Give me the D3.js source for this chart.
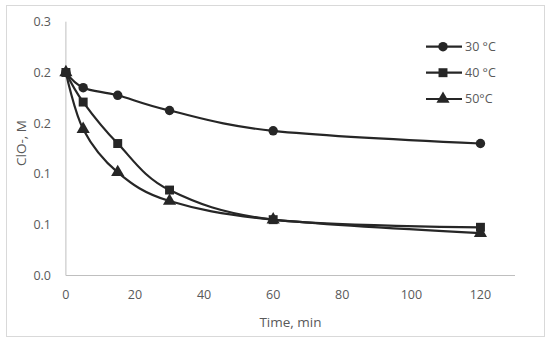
<html>
<head>
<title>ClO- decay</title>
<style>
  body { margin: 0; background: #fff; }
  text { font-family: "Open Sans", "Liberation Sans", sans-serif; fill: #595959; }
</style>
</head>
<body>
<script src="https://d3js.org/d3.v7.min.js"></script>
<script>
var times = [0, 5, 15, 30, 60, 120];
var c30 = [0.240, 0.222, 0.213, 0.195, 0.171, 0.156];
var c40 = [0.240, 0.205, 0.156, 0.101, 0.066, 0.057];
var c50 = [0.240, 0.173, 0.122, 0.088, 0.066, 0.050];
var seriesNames = ["30 °C", "40 °C", "50°C"];
var xTicks = [0, 20, 40, 60, 80, 100, 120];
var yTicks = [0, 0.06, 0.12, 0.18, 0.24, 0.3];

var w = 550, h = 343;
var svg = d3.select('body').append('svg')
    .attr('width', w).attr('height', h);

// outer frame
svg.append('rect')
    .attr('x', 6.5).attr('y', 5.5)
    .attr('width', 538).attr('height', 331)
    .attr('fill', 'none').attr('stroke', '#d9d9d9');

var x = d3.scaleLinear().domain([0, 130]).range([65.9, 515]);
var y = d3.scaleLinear().domain([0, 0.3]).range([275.5, 21.7]);

// axes
svg.append('line')
    .attr('x1', x(0)).attr('x2', x(0))
    .attr('y1', y(0.3)).attr('y2', y(0))
    .attr('stroke', '#bfbfbf').attr('stroke-width', 1);
svg.append('line')
    .attr('x1', x(0)).attr('x2', x(130))
    .attr('y1', y(0)).attr('y2', y(0))
    .attr('stroke', '#bfbfbf').attr('stroke-width', 1);

svg.selectAll('.ylab').data(yTicks).enter()
    .append('text')
    .attr('class', 'ylab')
    .attr('x', 51).attr('y', d => y(d))
    .attr('dy', '0.35em')
    .attr('text-anchor', 'end')
    .style('font-size', '12.5px')
    .text(d => d3.format('.1f')(d));

svg.selectAll('.xlab').data(xTicks).enter()
    .append('text')
    .attr('class', 'xlab')
    .attr('x', d => x(d)).attr('y', 295)
    .attr('dy', '0.35em')
    .attr('text-anchor', 'middle')
    .style('font-size', '12.5px')
    .text(d => d);

svg.append('text')
    .attr('x', (x(0) + x(130)) / 2).attr('y', 322)
    .attr('dy', '0.35em')
    .attr('text-anchor', 'middle')
    .style('font-size', '13.5px')
    .text('Time, min');

svg.append('text')
    .attr('transform', 'translate(21,143) rotate(-90)')
    .attr('dy', '0.35em')
    .attr('text-anchor', 'middle')
    .style('font-size', '13.5px')
    .text('ClO-, M');

var ink = '#262626';
var series = [c30, c40, c50];
var shapes = [d3.symbolCircle, d3.symbolSquare, d3.symbolTriangle];
var sizes = [70, 80, 75];
var drawOrder = [2, 0, 1];

var line = d3.line()
    .x(d => x(d[0])).y(d => y(d[1]))
    .curve(d3.curveCatmullRom.alpha(0));

drawOrder.forEach(function(s) {
    var vals = series[s];
    var pts = times.map((t, i) => [t, vals[i]]);
    svg.append('path')
        .attr('d', line(pts))
        .attr('fill', 'none')
        .attr('stroke', ink)
        .attr('stroke-width', 2.2);
    svg.selectAll('.m' + s).data(pts).enter()
        .append('path')
        .attr('class', 'm' + s)
        .attr('transform', d => 'translate(' + x(d[0]) + ',' + y(d[1]) + ')')
        .attr('d', d3.symbol().type(shapes[s]).size(sizes[s]))
        .attr('fill', ink);
});

// legend
var legY = [46.7, 72.7, 99];
seriesNames.forEach(function(name, s) {
    var g = svg.append('g').attr('transform', 'translate(0,' + legY[s] + ')');
    g.append('line')
        .attr('x1', 426).attr('x2', 462)
        .attr('stroke', ink).attr('stroke-width', 2.2);
    g.append('path')
        .attr('transform', 'translate(443,0)')
        .attr('d', d3.symbol().type(shapes[s]).size(sizes[s]))
        .attr('fill', ink);
    g.append('text')
        .attr('x', 465).attr('dy', '0.35em')
        .style('font-size', '12.5px')
        .text(name);
});
</script>
</body>
</html>
